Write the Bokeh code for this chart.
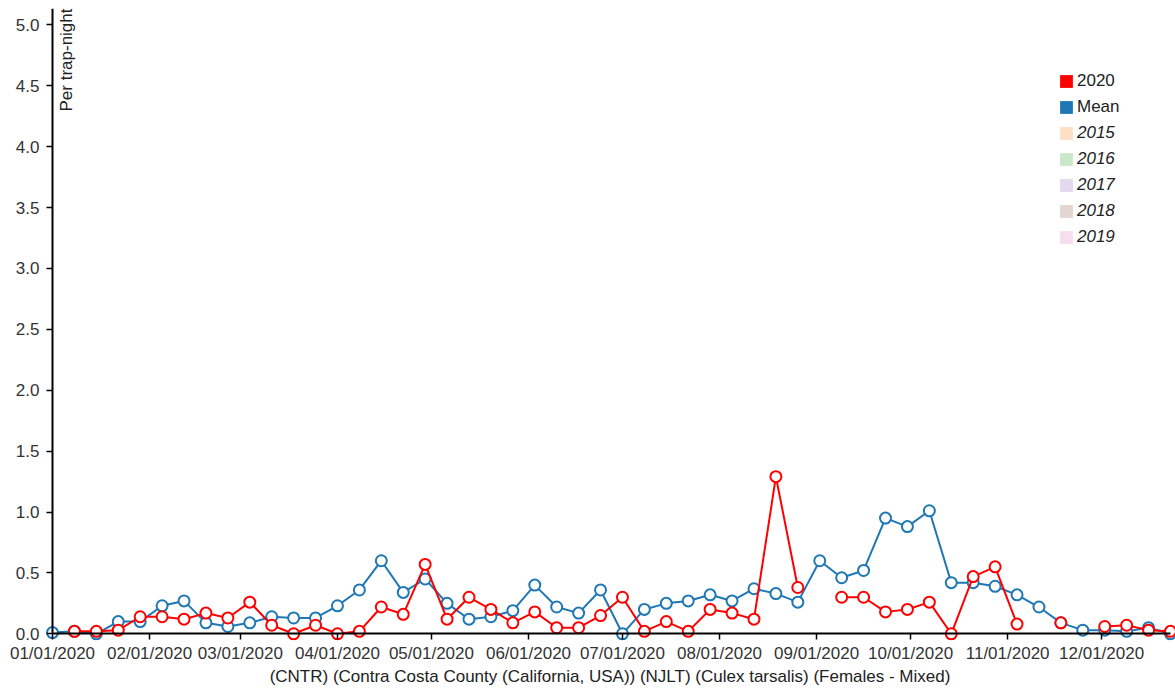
import math
import numpy as np
import pandas as pd
from bokeh.plotting import figure
from bokeh.models import (Range1d, LinearAxis, DatetimeAxis, FixedTicker, MonthsTicker,
                          DatetimeTickFormatter, PrintfTickFormatter, Legend, LegendItem,
                          Label, ColumnDataSource)
from bokeh.embed import file_html
from bokeh.resources import INLINE

# ---------------- data ----------------
DATES = [
    "2020-01-01", "2020-01-08", "2020-01-15", "2020-01-22", "2020-01-29",
    "2020-02-05", "2020-02-12", "2020-02-19", "2020-02-26",
    "2020-03-04", "2020-03-11", "2020-03-18", "2020-03-25",
    "2020-04-01", "2020-04-08", "2020-04-15", "2020-04-22", "2020-04-29",
    "2020-05-06", "2020-05-13", "2020-05-20", "2020-05-27",
    "2020-06-03", "2020-06-10", "2020-06-17", "2020-06-24",
    "2020-07-01", "2020-07-08", "2020-07-15", "2020-07-22", "2020-07-29",
    "2020-08-05", "2020-08-12", "2020-08-19", "2020-08-26",
    "2020-09-02", "2020-09-09", "2020-09-16", "2020-09-23", "2020-09-30",
    "2020-10-07", "2020-10-14", "2020-10-21", "2020-10-28",
    "2020-11-04", "2020-11-11", "2020-11-18", "2020-11-25",
    "2020-12-02", "2020-12-09", "2020-12-16", "2020-12-23",
]
MEAN = [
    0.01, 0.02, 0.00, 0.10, 0.10,
    0.23, 0.27, 0.09, 0.06,
    0.09, 0.14, 0.13, 0.13,
    0.23, 0.36, 0.60, 0.34, 0.45,
    0.25, 0.12, 0.14, 0.19,
    0.40, 0.22, 0.17, 0.36,
    0.00, 0.20, 0.25, 0.27, 0.32,
    0.27, 0.37, 0.33, 0.26,
    0.60, 0.46, 0.52, 0.95, 0.88,
    1.01, 0.42, 0.42, 0.39,
    0.32, 0.22, 0.09, 0.03,
    0.03, 0.02, 0.05, 0.00,
]
NA = float("nan")
Y2020 = [
    NA, 0.02, 0.02, 0.03, 0.14,
    0.14, 0.12, 0.17, 0.13,
    0.26, 0.07, 0.00, 0.07,
    0.00, 0.02, 0.22, 0.16, 0.57,
    0.12, 0.30, 0.20, 0.09,
    0.18, 0.05, 0.05, 0.15,
    0.30, 0.02, 0.10, 0.02, 0.20,
    0.17, 0.12, 1.29, 0.38,
    NA, 0.30, 0.30, 0.18, 0.20,
    0.26, 0.00, 0.47, 0.55,
    0.08, NA, 0.09, NA,
    0.06, 0.07, 0.03, 0.02,
]
LEGEND_MAIN = ["2020", "Mean"]
LEGEND_YEARS = ["2015", "2016", "2017", "2018", "2019"]
Y_TICKS = [0.0, 0.5, 1.0, 1.5, 2.0, 2.5, 3.0, 3.5, 4.0, 4.5, 5.0]
X_LABEL = "(CNTR) (Contra Costa County (California, USA)) (NJLT) (Culex tarsalis) (Females - Mixed)"
Y_LABEL = "Per trap-night"

# ---------------- style ----------------
FONT = "Liberation Sans"
FS = "17px"
RED = "#ff0000"
BLUE = "#1f77b4"
MAIN_COLORS = [RED, BLUE]
YEAR_COLORS = ["#ffdfc3", "#cae7ca", "#e4d9ef", "#e2d5d2", "#f8ddf0"]
TEXT = "#222222"
TICK_TEXT = "#333333"

dates = pd.to_datetime(DATES)
d0 = dates[0].to_pydatetime()
d1 = dates[-1].to_pydatetime()
pad_l = pd.Timedelta(days=2.555).to_pytimedelta()
pad_r = pd.Timedelta(days=1.6).to_pytimedelta()
Y_MIN, Y_MAX = -0.055, 5.134


def ms(d):
    return pd.Timestamp(d).value / 1e6


x_range = Range1d(d0 - pad_l, d1 + pad_r)
p = figure(width=1175, height=688, output_backend="svg", toolbar_location=None,
           x_axis_type=None, y_axis_type=None,
           x_range=x_range, y_range=Range1d(Y_MIN, Y_MAX),
           min_border_left=44, min_border_right=0, min_border_top=8, min_border_bottom=48)
p.outline_line_color = None
p.background_fill_color = "white"

# --- label-only axes at the frame edges ---
fmt = "%m/%d/%Y"
x_lab_axis = DatetimeAxis(
    ticker=MonthsTicker(months=list(range(12))),
    formatter=DatetimeTickFormatter(days=fmt, months=fmt, years=fmt),
    axis_label=X_LABEL)
y_lab_axis = LinearAxis(ticker=FixedTicker(ticks=Y_TICKS),
                        formatter=PrintfTickFormatter(format="%.1f"))
for ax, standoff in ((x_lab_axis, 3), (y_lab_axis, 5)):
    ax.axis_line_color = None
    ax.major_tick_line_color = None
    ax.minor_tick_line_color = None
    ax.major_tick_in = 0
    ax.major_tick_out = 0
    ax.major_label_text_font = FONT
    ax.major_label_text_font_size = FS
    ax.major_label_text_color = TICK_TEXT
    ax.major_label_standoff = standoff
x_lab_axis.axis_label_text_font = FONT
x_lab_axis.axis_label_text_font_size = FS
x_lab_axis.axis_label_text_font_style = "normal"
x_lab_axis.axis_label_text_color = TEXT
x_lab_axis.axis_label_standoff = 1
p.add_layout(x_lab_axis, "below")
p.add_layout(y_lab_axis, "left")

# --- line + tick axes at zero / first date ---
x_line_axis = LinearAxis(ticker=MonthsTicker(months=list(range(12))),
                         formatter=PrintfTickFormatter(format=""),
                         fixed_location=0, bounds=(ms(d0), ms(d1)))
y_line_axis = LinearAxis(ticker=FixedTicker(ticks=Y_TICKS),
                         formatter=PrintfTickFormatter(format=""),
                         fixed_location=ms(d0), bounds=(0, Y_MAX))
for ax in (x_line_axis, y_line_axis):
    ax.axis_line_color = "black"
    ax.axis_line_width = 2
    ax.major_tick_line_color = "black"
    ax.major_tick_line_width = 1.5
    ax.major_tick_in = 0
    ax.major_tick_out = 6
    ax.minor_tick_line_color = None
    ax.major_label_text_font_size = "1px"
p.add_layout(x_line_axis, "below")
p.add_layout(y_line_axis, "left")

src = ColumnDataSource(dict(date=dates, mean=np.array(MEAN), y2020=np.array(Y2020)))
p.line("date", "mean", source=src, line_color=BLUE, line_width=2)
p.scatter("date", "mean", source=src, size=11, line_color=BLUE, fill_color="white", line_width=2)
p.line("date", "y2020", source=src, line_color=RED, line_width=2)
p.scatter("date", "y2020", source=src, size=11, line_color=RED, fill_color="white", line_width=2)


def make_items(labels, colors):
    items = []
    for lab, col in zip(labels, colors):
        r = p.quad(left=[NA], right=[NA], top=[NA], bottom=[NA], fill_color=col, line_color=None)
        items.append(LegendItem(label=lab, renderers=[r]))
    return items


def style_legend(leg, italic):
    leg.label_text_font = FONT
    leg.label_text_font_size = FS
    leg.label_text_color = TEXT
    leg.label_text_font_style = "italic" if italic else "normal"
    leg.glyph_width = 16
    leg.glyph_height = 16
    leg.label_height = 16
    leg.label_standoff = 3
    leg.spacing = 6
    leg.padding = 0
    leg.margin = 0
    leg.border_line_color = None
    leg.background_fill_alpha = 0


leg1 = Legend(items=make_items(LEGEND_MAIN, MAIN_COLORS), location=(1014, 523))
style_legend(leg1, False)
leg2 = Legend(items=make_items(LEGEND_YEARS, YEAR_COLORS), location=(1014, 393))
style_legend(leg2, True)
p.add_layout(leg1)
p.add_layout(leg2)

p.add_layout(Label(x=ms(d0), y=Y_MAX, x_offset=14, text=Y_LABEL, angle=math.pi / 2,
                   text_align="right", text_baseline="alphabetic",
                   text_font=FONT, text_font_size=FS, text_color=TEXT))

open("out.html", "w").write(file_html(p, INLINE))
